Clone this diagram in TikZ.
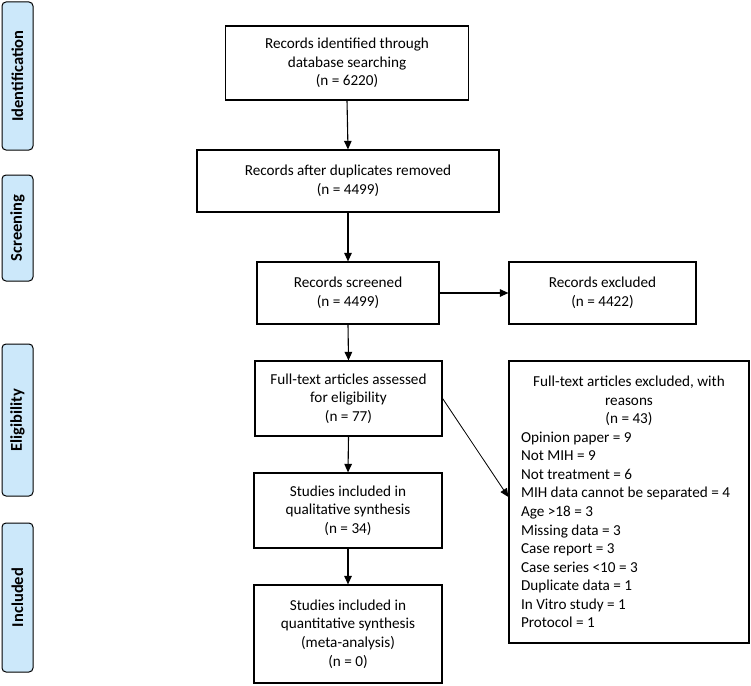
\documentclass[tikz,border=0pt]{standalone}
\usepackage{fontspec}
\setmainfont{Carlito}
\usetikzlibrary{arrows.meta}
\definecolor{phase}{HTML}{CCE8FA}
\begin{document}
\begin{tikzpicture}[x=1pt,y=-1pt,
  every node/.style={font=\fontsize{15.2}{18.55}\selectfont},
  box/.style={draw, line width=1.2pt, align=center, inner sep=0pt},
  phasebox/.style={draw, line width=1pt, fill=phase, rounded corners=4pt, inner sep=0pt, minimum height=31, font=\fontsize{16.5}{19}\selectfont\bfseries},
  arr/.style={-{Triangle[length=8.5pt,width=7.5pt]}, line width=1.1pt},
  thinarr/.style={-{Triangle[length=8.5pt,width=7.5pt]}, line width=0.8pt}]
\useasboundingbox (0,0) rectangle (751,685);

% phase labels
\node[phasebox, rotate=90, minimum width=148] (p1) at (17.5,76) {Identification};
\node[phasebox, rotate=90, minimum width=106] (p2) at (17.5,228) {Screening};
\node[phasebox, rotate=90, minimum width=152] (p3) at (17.5,420) {Eligibility};
\node[phasebox, rotate=90, minimum width=149] (p4) at (17.5,597.5) {Included};

% boxes
\node[box, minimum width=243, minimum height=74] (b1) at (347,63) {Records identified through\\database searching\\(n = 6220)};
\node[box, minimum width=302, minimum height=62] (b2) at (348,181) {Records after duplicates removed\\(n = 4499)};
\node[box, minimum width=182, minimum height=62] (b3) at (348,293) {Records screened\\(n = 4499)};
\node[box, minimum width=187, minimum height=62] (ex1) at (602.5,293) {Records excluded\\(n = 4422)};
\node[box, minimum width=187, minimum height=75] (b4) at (348.5,398.5) {Full-text articles assessed\\for eligibility\\(n = 77)};
\node[box, minimum width=188, minimum height=75] (b5) at (348,510.5) {Studies included in\\qualitative synthesis\\(n = 34)};
\node[box, minimum width=188, minimum height=98] (b6) at (348,634) {Studies included in\\quantitative synthesis\\(meta-analysis)\\(n = 0)};
\node[box, minimum width=240, minimum height=282] (ex2) at (629,502) {\parbox{216pt}{\centering Full-text articles excluded, with\\reasons\\(n = 43)\par\raggedright
Opinion paper = 9\\
Not MIH = 9\\
Not treatment = 6\\
MIH data cannot be separated = 4\\
Age >18 = 3\\
Missing data = 3\\
Case report = 3\\
Case series <10 = 3\\
Duplicate data = 1\\
In Vitro study = 1\\
Protocol = 1}};

% arrows
\draw[arr] (b1.south) -- (b2.north);
\draw[arr] (b2.south) -- (b3.north);
\draw[arr] (b3.east) -- (ex1.west);
\draw[arr] (b3.south) -- (b4.north);
\draw[arr] (b4.south) -- (b5.north);
\draw[arr] (b5.south) -- (b6.north);
\draw[thinarr] (b4.east) -- ([yshift=5pt]ex2.west);
\end{tikzpicture}
\end{document}
